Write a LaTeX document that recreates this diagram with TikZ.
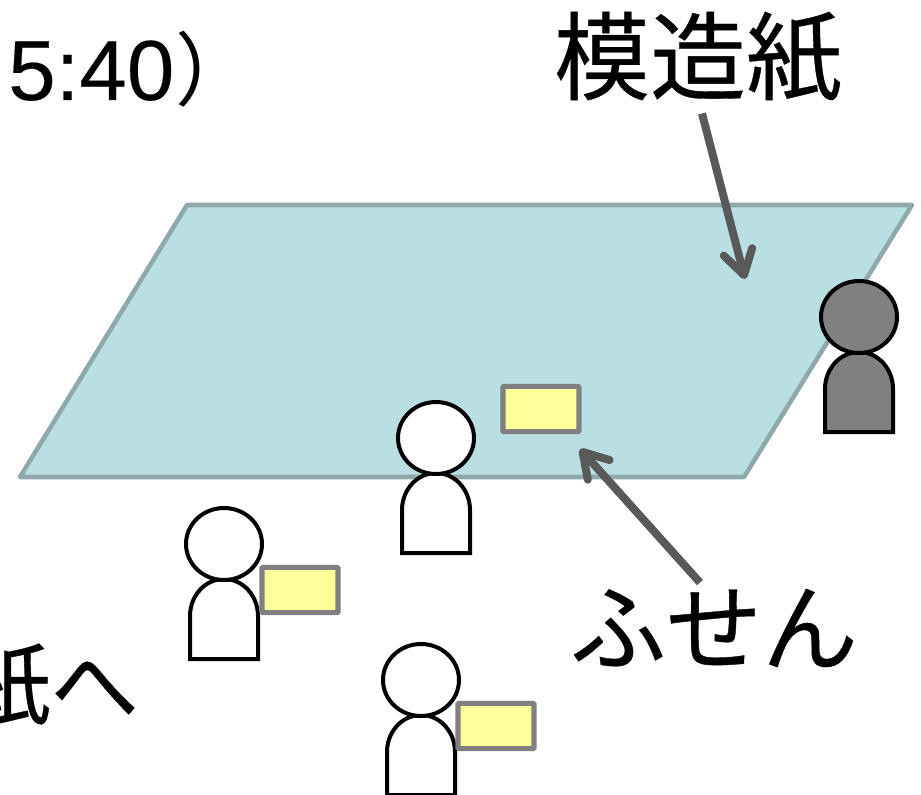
\documentclass[tikz,border=0pt]{standalone}
\usepackage{fontspec}
\setmainfont{Liberation Sans}
\newfontfamily\cjk[FakeBold=0.4]{Noto Sans CJK JP}
\newfontfamily\cjkthin{Noto Sans CJK JP}
\newfontfamily\digits[FakeBold=0.25]{Liberation Sans}
\usetikzlibrary{arrows.meta}
\definecolor{sheetfill}{HTML}{B9DFE2}
\definecolor{sheetedge}{HTML}{8FA9AB}
\definecolor{notefill}{HTML}{FFFF99}
\definecolor{arrowgray}{HTML}{595959}
\tikzset{
  x=0.75pt, y=-0.75pt,
  person/.style={draw=black, line width=3pt, fill=#1},
  note/.style={draw=black!50, line width=3.8pt, fill=notefill, rounded corners=0.6pt, minimum width=57pt, minimum height=34pt, inner sep=0pt},
  pointer/.style={draw=arrowgray, line width=6pt, -{Straight Barb[length=18pt,width=22pt,line width=6pt,round]}},
  label/.style={inner sep=0pt, font=\fontsize{72}{72}\selectfont\cjk}
}
\newcommand{\drawperson}[3]{%
  \path[person=#3] (#1-34,#2+115) -- (#1-34,#2+72) arc[start angle=180, end angle=360, x radius=34, y radius=37] -- (#1+34,#2+115) -- cycle;
  \path[person=#3] (#1,#2) ellipse[x radius=38, y radius=36];
}
\begin{document}
\begin{tikzpicture}
  \useasboundingbox (0,0) rectangle (921,795);
  \clip (0,0) rectangle (921,795);
  % sheet
  \draw[draw=sheetedge, line width=3.4pt, fill=sheetfill, line join=round]
    (187,205) -- (912,205) -- (744,477) -- (20,477) -- cycle;
  \drawperson{859}{317}{black!50}
  \drawperson{436}{438}{white}
  \drawperson{224}{544}{white}
  \drawperson{421}{680}{white}
  \node[note] (noteA) at (541,409) {};
  \node[note] (noteB) at (300,590) {};
  \node[note] (noteC) at (496,726) {};
  % labels
  \node[label, anchor=base west] (time) at (8,100) {{\fontsize{64}{64}\selectfont\digits 5:40}\kern1pt{\fontsize{60}{60}\selectfont\cjkthin ）}};
  \node[label] (paper) at (698,57) {模造紙};
  \node[label] (sticky) at (714,628) {ふせん};
  \node[label, anchor=east, font=\fontsize{66}{66}\selectfont\cjk] (topaper) at (139,685) {紙へ};
  \coordinate (paperEnd) at (745,279);
  \coordinate (stickyEnd) at (580,449);
  \draw[pointer] (paper.south) ++(4,11) -- (paperEnd);
  \draw[pointer] (sticky.north) ++(-14,-6) -- (stickyEnd);
\end{tikzpicture}
\end{document}
